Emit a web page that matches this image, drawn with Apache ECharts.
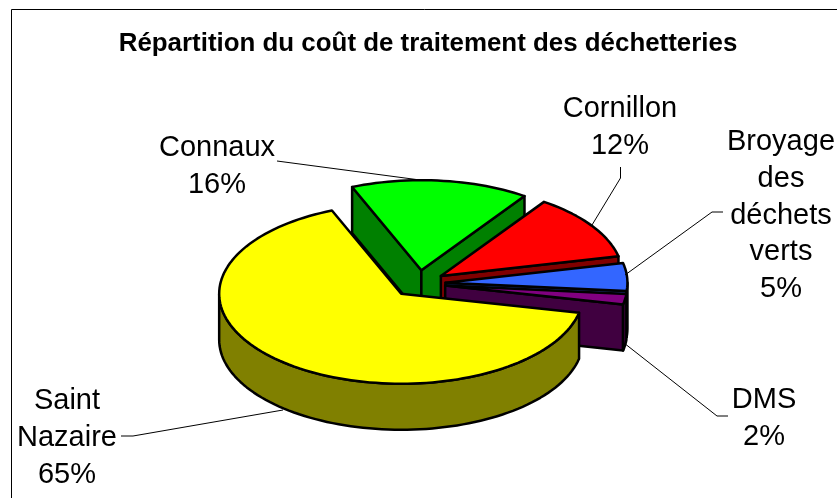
<!DOCTYPE html>
<html>
<head>
<meta charset="utf-8">
<style>html,body{margin:0;padding:0;background:#fff}#main{width:837px;height:498px}</style>
<script src="https://cdn.jsdelivr.net/npm/echarts@6/dist/echarts.min.js"></script>
</head>
<body>
<div id="main"></div>
<script>
// slices in the order excel draws them, clockwise from startAngle
var categories = ['Saint Nazaire', 'Connaux', 'Cornillon', 'Broyage des déchets verts', 'DMS'];
var shares = [65.4, 15.8, 11.9, 5.0, 1.9];
var topColors = ['#ffff00', '#00ff00', '#ff0000', '#3366ff', '#800080'];
var sideColors = ['#808000', '#008000', '#800000', '#1a3380', '#400040'];

var labelLines = [
	['Saint', 'Nazaire', '65%'],
	['Connaux', '16%'],
	['Cornillon', '12%'],
	['Broyage', 'des', 'déchets', 'verts', '5%'],
	['DMS', '2%']
];
var labelPos = [[67, 383], [217, 130], [620, 91], [781, 124], [764, 382]];
var leaders = [
	[[121, 436], [133, 436], [283, 410]],
	[[277, 161], [420, 180]],
	[[620.5, 167], [620.5, 178], [592, 225]],
	[[723, 212], [712, 212], [625, 275]],
	[[728, 416], [717, 416], [624, 343]]
];

// pie projection
var startAngle = 102.2;
var cx = 418.5, cy = 283.5;
var rx = 182, ry = 90;
var depth = 46, explode = 27;
var drawOrder = [1, 2, 3, 4, 0];
var rad = Math.PI / 180;

function pt(o, a, dy) {
	return [o[0] + rx * Math.sin(a * rad), o[1] - ry * Math.cos(a * rad) + (dy || 0)];
}

function arc(o, a0, a1, dy) {
	var n = Math.max(2, Math.ceil(Math.abs(a1 - a0) / 2));
	var out = [];
	for (var i = 0; i <= n; i++) out.push(pt(o, a0 + (a1 - a0) * i / n, dy));
	return out;
}

function face(points, fill) {
	return {
		type: 'polygon',
		shape: { points: points },
		style: { fill: fill, stroke: '#000', lineWidth: 2.5, lineJoin: 'round' }
	};
}

var total = shares.reduce(function (s, v) { return s + v; }, 0);
var spans = [];
var acc = startAngle;
shares.forEach(function (v) {
	var a1 = acc + v / total * 360;
	spans.push([acc, a1]);
	acc = a1;
});

function sliceFaces(i) {
	var a0 = spans[i][0], a1 = spans[i][1];
	var mid = (a0 + a1) / 2;
	var o = [cx + explode * Math.sin(mid * rad), cy - explode * (ry / rx) * Math.cos(mid * rad)];
	var side = sideColors[i];
	var kids = [];

	// cut faces, only those turned towards the viewer
	[a0, a1].forEach(function (a, k) {
		var normal = (a + (k === 0 ? -90 : 90)) * rad;
		if (Math.cos(normal) < 0) {
			var e = pt(o, a);
			kids.push(face([o, e, [e[0], e[1] + depth], [o[0], o[1] + depth]], side));
		}
	});

	// outer rim, the front half of the ellipse
	for (var turn = -360; turn <= 360; turn += 360) {
		var from = Math.max(a0, 90 + turn), to = Math.min(a1, 270 + turn);
		if (to > from) {
			var top = arc(o, from, to, 0);
			var bottom = arc(o, from, to, depth).reverse();
			kids.push(face(top.concat(bottom), side));
		}
	}

	kids.push(face([o].concat(arc(o, a0, a1, 0)), topColors[i]));
	return kids;
}

var myChart = echarts.init(document.getElementById('main'), null, { renderer: 'canvas' });

var option = {
	backgroundColor: '#fff',
	animation: false,
	title: {
		text: 'Répartition du coût de traitement des déchetteries',
		left: 423,
		top: 26,
		textAlign: 'center',
		textStyle: { fontFamily: 'Liberation Sans', fontSize: 25.9, fontWeight: 'bold', color: '#000' }
	},
	series: [
		{
			type: 'custom',
			coordinateSystem: 'none',
			silent: true,
			data: drawOrder,
			renderItem: function (params, api) {
				return { type: 'group', children: sliceFaces(api.value(0)) };
			}
		},
		{
			type: 'custom',
			coordinateSystem: 'none',
			silent: true,
			z: 3,
			data: categories.map(function (c, i) { return i; }),
			renderItem: function (params, api) {
				var i = api.value(0);
				return {
					type: 'group',
					children: [
						{
							type: 'polyline',
							shape: { points: leaders[i] },
							style: { fill: null, stroke: '#000', lineWidth: 1 }
						},
						{
							type: 'text',
							style: {
								x: labelPos[i][0],
								y: labelPos[i][1],
								text: labelLines[i].join('\n'),
								font: '29px "Liberation Sans"',
								fill: '#000',
								align: 'center',
								verticalAlign: 'top',
								lineHeight: 36.6
							}
						}
					]
				};
			}
		}
	],
	graphic: [{
		type: 'rect',
		z: -1,
		shape: { x: 11.5, y: 9.5, width: 900, height: 600 },
		style: { fill: '#fff', stroke: '#000', lineWidth: 1 }
	}]
};
myChart.setOption(option);
</script>
</body>
</html>
